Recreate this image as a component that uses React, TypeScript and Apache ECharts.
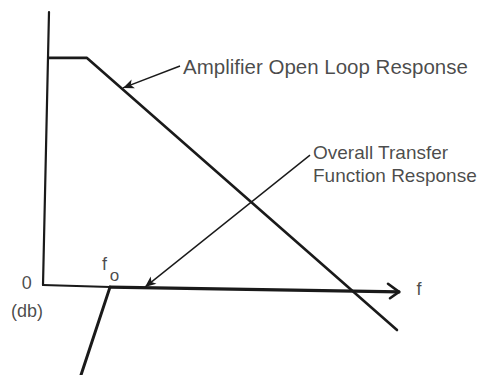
import React, { useEffect, useRef } from "react";
import * as echarts from "echarts";

// Chart-space units: x = frequency (arbitrary, linear), y = gain in dB-like units
const VERT_AXIS: number[][] = [[1, 91], [-0.5, 0]];
const BASE_THIN: number[][] = [[-0.5, 0], [16.25, -0.7]];
const BASE_THICK: number[][] = [[16.25, -0.7], [88.5, -2.3]];
const AXIS_ARROW: number[][] = [[85.75, 0.4], [88.5, -2.3], [86.25, -4.4]];
const OPEN_LOOP: number[][] = [[1, 75.7], [10.5, 75.7], [88, -15]];
const OVERALL: number[][] = [[16.25, -0.7], [9, -30]];
const LEADER_OPEN: number[][] = [[33.75, 73], [19.5, 65.7]];
const LEADER_OVERALL: number[][] = [[66.25, 43.3], [25, -0.7]];

const LABEL_TEXTS = [
  "Amplifier Open Loop Response",
  "Overall Transfer\nFunction Response",
  "0",
  "(db)",
  "f",
  "o",
  "f",
];
const LABEL_POS: number[][] = [
  [34.5, 73],
  [67, 40.5],
  [-3.3, 0.7],
  [-0.5, -8.7],
  [14.9, 7],
  [17.4, 3.3],
  [93.5, -1.3],
];
const LABEL_ALIGN = ["left", "left", "right", "right", "center", "center", "center"];
const LABEL_SIZE = [20.5, 19, 18, 18, 18, 17, 18];

const INK = "#1a1a1a";
const FONT = "Liberation Sans";

export default function App() {
  const ref = useRef<HTMLDivElement>(null);
  useEffect(() => {
    document.body.style.margin = "0";
    const chart = echarts.init(ref.current!, null, { renderer: "svg" });
    const lineSeries = (data: number[][], width: number) => ({
      type: "line",
      data,
      showSymbol: false,
      symbol: "none",
      silent: true,
      clip: false,
      lineStyle: { color: INK, width, cap: "round", join: "round" },
    });
    const leader = (pts: number[][]) => ({
      type: "line",
      data: [],
      silent: true,
      markLine: {
        silent: true,
        animation: false,
        symbol: ["none", "arrow"],
        symbolSize: [7, 11],
        label: { show: false },
        lineStyle: { color: INK, width: 1.4, type: "solid" },
        data: [[{ coord: pts[0] }, { coord: pts[1] }]],
      },
    });
    chart.setOption({
      animation: false,
      backgroundColor: "#ffffff",
      grid: { left: 5, right: 37, top: 0, bottom: 0 },
      xAxis: { type: "value", min: -10, max: 100, show: false },
      yAxis: { type: "value", min: -30, max: 95, show: false },
      series: [
        lineSeries(VERT_AXIS, 2.2),
        lineSeries(BASE_THIN, 2),
        lineSeries(BASE_THICK, 3.2),
        lineSeries(AXIS_ARROW, 2.6),
        lineSeries(OPEN_LOOP, 2.6),
        lineSeries(OVERALL, 3),
        leader(LEADER_OPEN),
        leader(LEADER_OVERALL),
        {
          type: "scatter",
          symbolSize: 0,
          silent: true,
          clip: false,
          data: LABEL_TEXTS.map((t, i) => ({
            value: LABEL_POS[i],
            label: {
              show: true,
              formatter: t,
              position: [0, 0],
              align: LABEL_ALIGN[i],
              verticalAlign: "middle",
              fontSize: LABEL_SIZE[i],
              fontFamily: FONT,
              color: INK,
              lineHeight: 23,
            },
          })),
        },
      ],
    });
    return () => chart.dispose();
  }, []);
  return (
    <div
      ref={ref}
      style={{ position: "fixed", left: 0, top: 0, width: 482, height: 375, background: "#fff" }}
    />
  );
}
